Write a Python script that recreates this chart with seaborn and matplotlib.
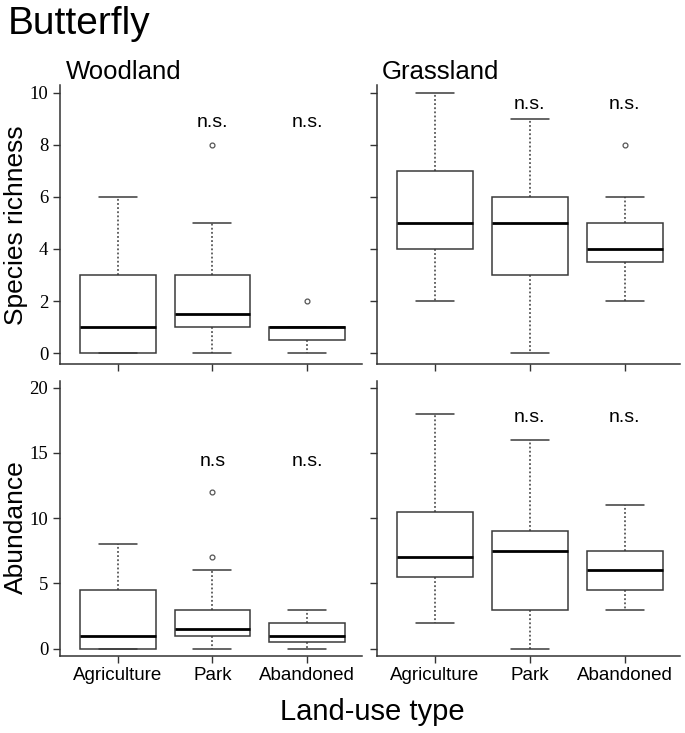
import pandas as pd
import numpy as np
import matplotlib
matplotlib.use('Agg')
import matplotlib.pyplot as plt
import seaborn as sns

# categories on the x axis
land_use = ['Agriculture', 'Park', 'Abandoned']

# box summaries: [lower whisker, Q1, median, Q3, upper whisker]
wood_richness = [[0, 0, 1, 3, 6], [0, 1, 1.5, 3, 5], [0, 0.5, 1, 1, 1]]
wood_richness_out = [[], [8], [2]]
grass_richness = [[2, 4, 5, 7, 10], [0, 3, 5, 6, 9], [2, 3.5, 4, 5, 6]]
grass_richness_out = [[], [], [8]]
wood_abundance = [[0, 0, 1, 4.5, 8], [0, 1, 1.5, 3, 6], [0, 0.5, 1, 2, 3]]
wood_abundance_out = [[], [7, 12], []]
grass_abundance = [[2, 5.5, 7, 10.5, 18], [0, 3, 7.5, 9, 16], [3, 4.5, 6, 7.5, 11]]
grass_abundance_out = [[], [], []]

# significance labels
wood_richness_sig = ['', 'n.s.', 'n.s.']
grass_richness_sig = ['', 'n.s.', 'n.s.']
wood_abundance_sig = ['', 'n.s', 'n.s.']
grass_abundance_sig = ['', 'n.s.', 'n.s.']


def expand(summary, outliers):
    # sample whose linear percentiles give exactly the summary above
    rows = []
    for cat, s, out in zip(land_use, summary, outliers):
        k = 1 + len(out)
        vals = [s[0]] + [s[1]] * k + [s[2]] * k + [s[3]] * k + [s[4]] + list(out)
        rows += [(cat, v) for v in vals]
    return pd.DataFrame(rows, columns=['land_use', 'value'])


sns.set_style('ticks')
plt.rcParams['font.family'] = ['Liberation Sans', 'DejaVu Sans']
plt.rcParams['text.color'] = 'black'
plt.rcParams['xtick.labelcolor'] = 'black'
plt.rcParams['ytick.labelcolor'] = 'black'

fig = plt.figure(figsize=(6.85, 7.33), dpi=100)
W, H = 685, 733


def pos(x0, y0, x1, y1):
    return [x0 / W, 1 - y1 / H, (x1 - x0) / W, (y1 - y0) / H]


panels = [
    (pos(60, 85, 362, 364), wood_richness, wood_richness_out, wood_richness_sig, 8.85, (-0.42, 10.3), [0, 2, 4, 6, 8, 10], True, False),
    (pos(377, 85, 680, 364), grass_richness, grass_richness_out, grass_richness_sig, 9.55, (-0.42, 10.3), [0, 2, 4, 6, 8, 10], False, False),
    (pos(60, 381, 362, 656), wood_abundance, wood_abundance_out, wood_abundance_sig, 14.3, (-0.55, 20.5), [0, 5, 10, 15, 20], True, True),
    (pos(377, 381, 680, 656), grass_abundance, grass_abundance_out, grass_abundance_sig, 17.7, (-0.55, 20.5), [0, 5, 10, 15, 20], False, True),
]

edge = '#3a3a3a'
for rect, summary, outs, sig, sig_y, ylim, yticks, ylab, xlab in panels:
    ax = fig.add_axes(rect)
    df = expand(summary, outs)
    sns.boxplot(data=df, x='land_use', y='value', order=land_use, ax=ax,
                width=0.8, color='white', linecolor=edge, linewidth=1.1,
                boxprops=dict(facecolor='white', edgecolor=edge, linewidth=1.1),
                medianprops=dict(color='black', linewidth=2.0),
                whiskerprops=dict(color=edge, linestyle=(0, (1.2, 1.5)), linewidth=1.1),
                capprops=dict(color=edge, linewidth=1.1),
                flierprops=dict(marker='o', markersize=3.5, markerfacecolor='white',
                                markeredgecolor='#555555', markeredgewidth=0.9))
    for i, t in enumerate(sig):
        if t:
            ax.text(i, sig_y, t, ha='center', va='center', fontsize=14, color='black')
    ax.set_xlim(-0.61, 2.58)
    ax.set_ylim(*ylim)
    ax.set_yticks(yticks)
    ax.set_xlabel('')
    ax.set_ylabel('')
    sns.despine(ax=ax)
    for sp in ['left', 'bottom']:
        ax.spines[sp].set_color('#333333')
        ax.spines[sp].set_linewidth(1.1)
    ax.tick_params(direction='out', length=5, width=1.0, color='#333333', labelcolor='black')
    if ylab:
        ax.set_yticklabels([str(v) for v in yticks], family='Liberation Serif', fontsize=13.5)
    else:
        ax.set_yticklabels([])
    if xlab:
        ax.set_xticklabels(land_use, fontsize=13.5)
        ax.tick_params(axis='x', pad=3)
    else:
        ax.set_xticklabels([])

fig.text(8 / W, 1 - 24 / H, 'Butterfly', fontsize=28, ha='left', va='center', color='black')
fig.text(66 / W, 1 - 72 / H, 'Woodland', fontsize=18.5, ha='left', va='center', color='black')
fig.text(382 / W, 1 - 72 / H, 'Grassland', fontsize=18.5, ha='left', va='center', color='black')
fig.text(16 / W, 1 - 225 / H, 'Species richness', fontsize=19, rotation=90, ha='center', va='center', color='black')
fig.text(16 / W, 1 - 527 / H, 'Abundance', fontsize=19, rotation=90, ha='center', va='center', color='black')
fig.text(372 / W, 1 - 712 / H, 'Land-use type', fontsize=21, ha='center', va='center', color='black')

fig.savefig('out.png', dpi=100, facecolor='white')
